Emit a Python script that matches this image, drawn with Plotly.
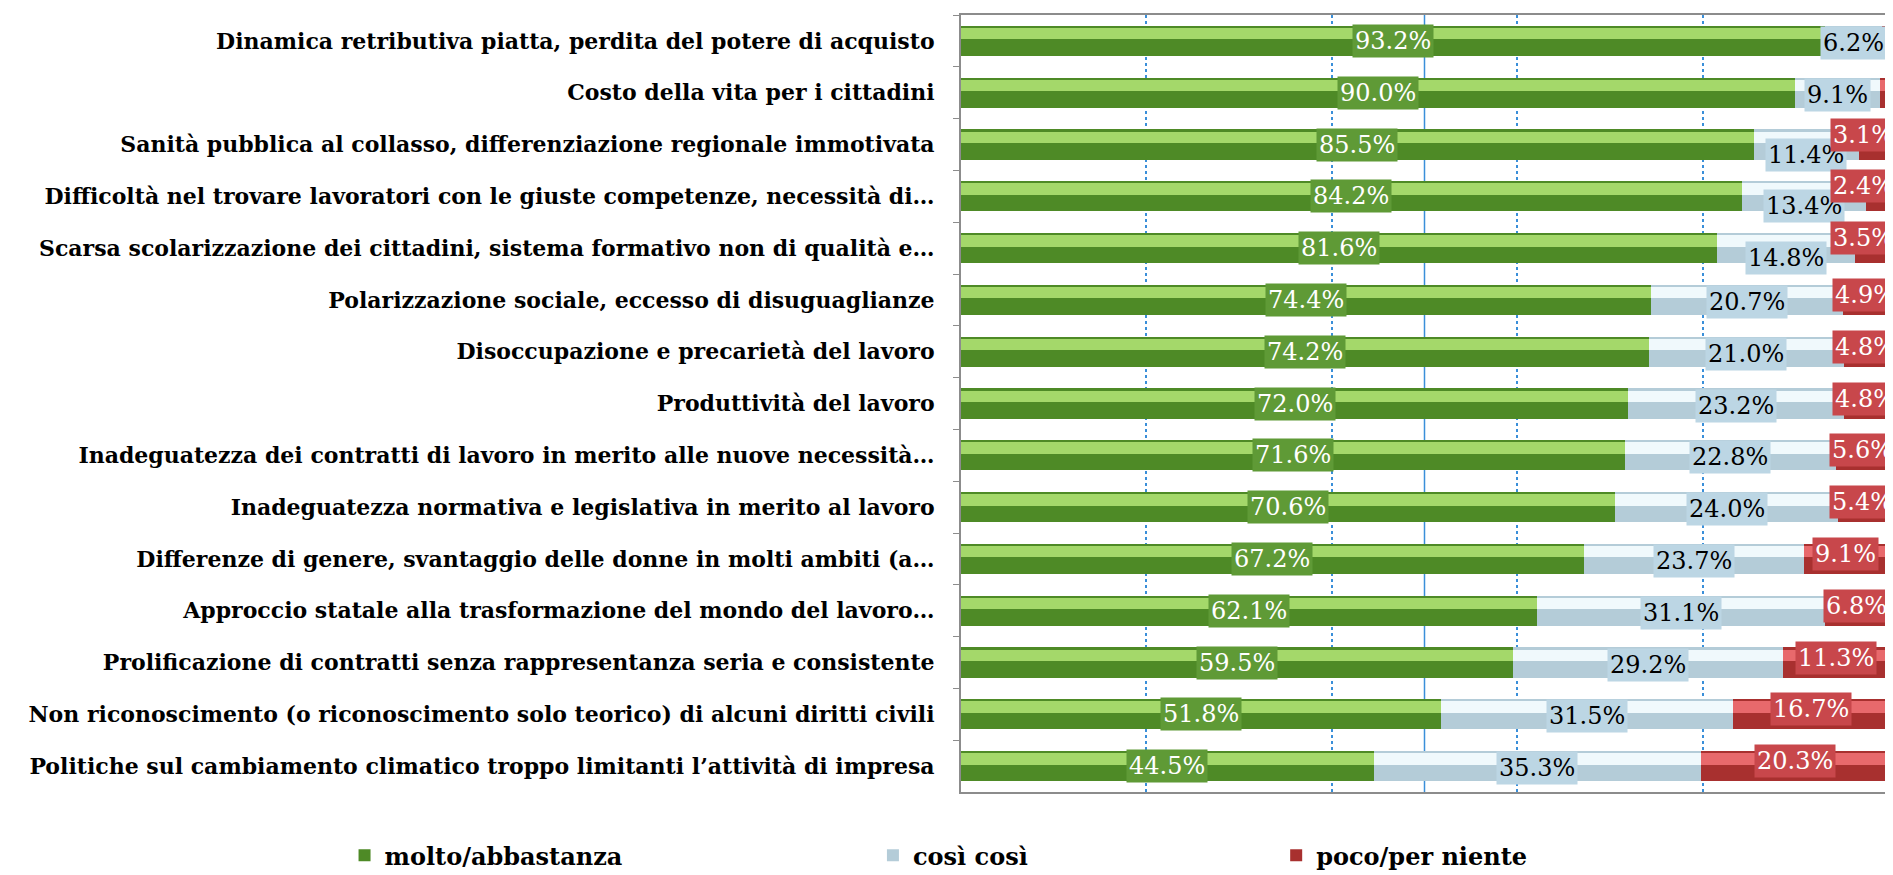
import plotly.graph_objects as go

# Categories, top to bottom as in the chart
categories = [
    "Dinamica retributiva piatta, perdita del potere di acquisto",
    "Costo della vita per i cittadini",
    "Sanità pubblica al collasso, differenziazione regionale immotivata",
    "Difficoltà nel trovare lavoratori con le giuste competenze, necessità di…",
    "Scarsa scolarizzazione dei cittadini, sistema formativo non di qualità e…",
    "Polarizzazione sociale, eccesso di disuguaglianze",
    "Disoccupazione e precarietà del lavoro",
    "Produttività del lavoro",
    "Inadeguatezza dei contratti di lavoro in merito alle nuove necessità…",
    "Inadeguatezza normativa e legislativa in merito al lavoro",
    "Differenze di genere, svantaggio delle donne in molti ambiti (a…",
    "Approccio statale alla trasformazione del mondo del lavoro…",
    "Prolificazione di contratti senza rappresentanza seria e consistente",
    "Non riconoscimento (o riconoscimento solo teorico) di alcuni diritti civili",
    "Politiche sul cambiamento climatico troppo limitanti l’attività di impresa",
]

molto = [93.2, 90.0, 85.5, 84.2, 81.6, 74.4, 74.2, 72.0, 71.6, 70.6, 67.2, 62.1, 59.5, 51.8, 44.5]
cosi = [6.2, 9.1, 11.4, 13.4, 14.8, 20.7, 21.0, 23.2, 22.8, 24.0, 23.7, 31.1, 29.2, 31.5, 35.3]
poco = [0.6, 0.9, 3.1, 2.4, 3.5, 4.9, 4.8, 4.8, 5.6, 5.4, 9.1, 6.8, 11.3, 16.7, 20.3]

series_names = ["molto/abbastanza", "così così", "poco/per niente"]

# base (shadow) colour, highlight colour, label box colour, label text colour
_STYLES = [
    ("#4E8A26", "#A4D86A", "#5F9A36", "white"),
    ("#B4CCD8", "#F0F9FC", "#BCD6E4", "black"),
    ("#A8302F", "#E8696C", "#C8474B", "white"),
]

LABEL_FONT = "DejaVu Serif"
AXIS_FONT = dict(family="DejaVu Serif", size=22, color="black", weight="bold")
LEGEND_FONT = dict(family="DejaVu Serif", size=24, color="black", weight="bold")
GRID_BLUE = "#3A8FD9"

fig = go.Figure()

all_series = [molto, cosi, poco]
legend_ids = ["legend", "legend2", "legend3"]

# Base bars (with legend entries)
for name, vals, style, lid in zip(series_names, all_series, _STYLES, legend_ids):
    fig.add_trace(
        go.Bar(
            y=categories,
            x=vals,
            orientation="h",
            name=name,
            width=0.58,
            marker=dict(color=style[0], line=dict(width=0)),
            legend=lid,
            hoverinfo="skip",
        )
    )

# Highlight strip on an overlaid axis to fake the glossy cylinder look
for name, vals, style in zip(series_names, all_series, _STYLES):
    fig.add_trace(
        go.Bar(
            y=categories,
            x=vals,
            orientation="h",
            name=name,
            width=0.22,
            offset=-0.25,
            marker=dict(color=style[1], line=dict(width=0)),
            yaxis="y2",
            showlegend=False,
            hoverinfo="skip",
        )
    )

# Data labels in coloured boxes, centred on each segment
for i, cat in enumerate(categories):
    start = 0.0
    for k, vals in enumerate(all_series):
        v = vals[i]
        centre = start + v / 2
        start += v
        if v < 2:
            continue
        style = _STYLES[k]
        anchor = dict(x=centre, xanchor="center", xshift=0)
        if k == 0:
            shift = 0
        elif k == 1:
            shift = -10 if 2 <= poco[i] < 4 else -2
        else:
            shift = 10 if v < 4 else 5
            if v < 4:
                # small end segments: box pinned to the right edge
                anchor = dict(x=100, xanchor="right", xshift=9)
        fig.add_annotation(
            y=cat,
            xref="x",
            yref="y",
            text=f"{v:.1f}%",
            showarrow=False,
            yshift=shift,
            font=dict(family=LABEL_FONT, size=24, color=style[3]),
            bgcolor=style[2],
            borderpad=2,
            **anchor,
        )

# 50% reference line
fig.add_vline(x=50, line_color=GRID_BLUE, line_width=1.5, layer="below")

legend_common = dict(
    orientation="h",
    yanchor="middle",
    y=-0.082,
    xanchor="left",
    font=LEGEND_FONT,
    bgcolor="rgba(0,0,0,0)",
    itemwidth=30,
)

fig.update_layout(
    barmode="stack",
    width=1893,
    height=875,
    margin=dict(l=953, r=13, t=5, b=78),
    paper_bgcolor="white",
    plot_bgcolor="white",
    legend=dict(x=-0.665, **legend_common),
    legend2=dict(x=-0.095, **legend_common),
    legend3=dict(x=0.34, **legend_common),
    xaxis=dict(
        range=[0, 100],
        dtick=20,
        showticklabels=False,
        showgrid=True,
        griddash="dot",
        gridcolor=GRID_BLUE,
        gridwidth=1.5,
        zeroline=False,
        showline=True,
        mirror=True,
        linecolor="#8C8C8C",
        linewidth=2,
        ticks="",
    ),
    yaxis=dict(
        categoryorder="array",
        categoryarray=categories,
        range=[len(categories) - 0.5, -0.5],
        tickfont=AXIS_FONT,
        ticks="outside",
        tickson="boundaries",
        ticklen=6,
        tickcolor="#8C8C8C",
        ticklabelstandoff=20,
        showline=True,
        mirror=True,
        linecolor="#8C8C8C",
        linewidth=2,
        showgrid=False,
    ),
    yaxis2=dict(
        overlaying="y",
        categoryorder="array",
        categoryarray=categories,
        range=[len(categories) - 0.5, -0.5],
        showticklabels=False,
        showgrid=False,
        showline=False,
        ticks="",
    ),
)

fig.write_html("out.html")
